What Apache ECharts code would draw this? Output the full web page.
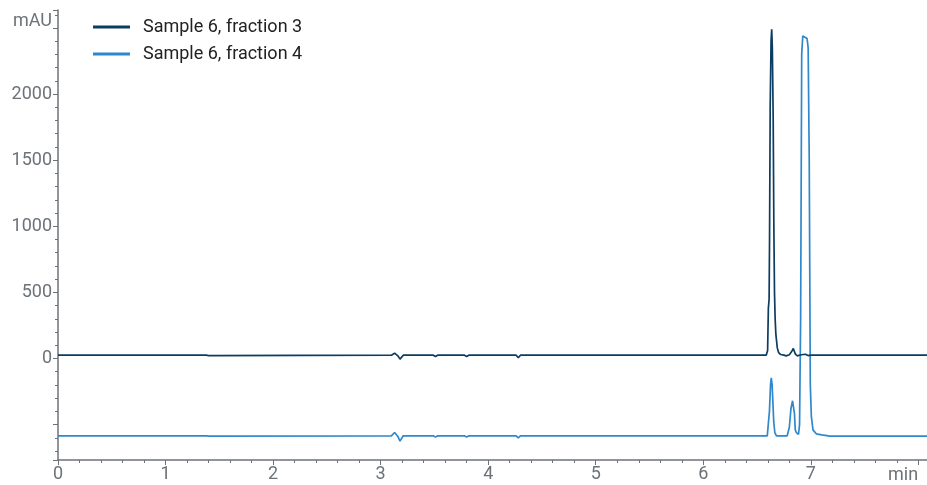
<!DOCTYPE html>
<html>
<head>
<meta charset="utf-8">
<script src="https://cdn.jsdelivr.net/npm/echarts@6/dist/echarts.min.js"></script>
<style>html,body{margin:0;padding:0;background:#fff}#c{width:927px;height:485px}</style>
</head>
<body>
<div id="c"></div>
<script>
// Series names
const seriesNames = ["Sample 6, fraction 3", "Sample 6, fraction 4"];

// Fraction 3: retention time (min) and absorbance (mAU)
const f3Time = [0, 0.75, 0.76, 0.77, 1.38, 1.39, 1.40, 1.41, 3.10, 3.13, 3.16, 3.18, 3.21, 3.49, 3.51, 3.53, 3.78, 3.80, 3.82, 4.26, 4.28, 4.30,
  6.585, 6.598, 6.605, 6.612, 6.616, 6.622, 6.630, 6.636, 6.642, 6.650, 6.656, 6.662, 6.668, 6.675, 6.688, 6.700, 6.720, 6.750, 6.770, 6.800, 6.820, 6.837, 6.855, 6.875, 6.900, 6.930, 6.950, 6.975, 7.000, 8.08];
const f3Value = [25, 25, 34, 25, 25, 34, 22, 25, 25, 40, 20, -5, 25, 25, 15, 25, 25, 15, 25, 25, 5, 25,
  25, 60, 380, 450, 900, 1900, 2400, 2490, 2350, 1800, 1000, 500, 300, 180, 80, 45, 30, 25, 20, 28, 50, 76, 35, 20, 26, 30, 32, 22, 25, 25];

// Fraction 4: retention time (min) and absorbance (mAU), drawn with a display offset
const f4Offset = -610;
const f4Time = [0, 0.75, 0.76, 0.77, 1.38, 1.39, 1.40, 1.41, 3.10, 3.13, 3.16, 3.18, 3.21, 3.49, 3.51, 3.53, 3.78, 3.80, 3.82, 4.26, 4.28, 4.30,
  6.595, 6.605, 6.615, 6.625, 6.632, 6.640, 6.648, 6.655, 6.665, 6.680, 6.780, 6.800, 6.815, 6.830, 6.840, 6.848, 6.855, 6.865, 6.875, 6.885, 6.895, 6.905, 6.915, 6.925, 6.935, 6.945, 6.955, 6.965, 6.975, 6.985, 6.995, 7.005, 7.020, 7.050, 7.100, 7.150, 7.170, 8.08];
const f4Value = [25, 25, 33, 25, 25, 32, 22, 25, 25, 50, 20, -15, 25, 25, 15, 25, 25, 15, 25, 25, 10, 25,
  25, 120, 210, 410, 463, 410, 260, 130, 50, 25, 25, 90, 230, 290, 297, 190, 70, 50, 40, 35, 110, 910, 2910, 3050, 3060, 3040, 3050, 3030, 2960, 2110, 410, 168, 70, 40, 32, 27, 23, 23];

const f3Data = f3Time.map((t, i) => [t, f3Value[i]]);
const f4Data = f4Time.map((t, i) => [t, f4Value[i] + f4Offset]);

const axisColor = '#6d7277';
const labelColor = '#6d7277';
const font = 'Roboto';

const chart = echarts.init(document.getElementById('c'), null, {renderer: 'canvas'});
chart.setOption({
  animation: false,
  backgroundColor: '#ffffff',
  grid: {left: 58, right: 0, top: 10, bottom: 25, containLabel: false, outerBoundsMode: 'none'},
  legend: {
    orient: 'vertical', left: 93, top: 18, padding: 0, itemWidth: 37, itemHeight: 3, itemGap: 9,
    icon: 'rect',
    textStyle: {fontFamily: font, fontSize: 18, color: '#222', padding: [0, 0, 0, 8]},
    data: seriesNames
  },
  xAxis: {
    type: 'value', min: 0, max: 8.08, minInterval: 1, maxInterval: 1,
    name: 'min', nameLocation: 'end', nameGap: -39,
    nameTextStyle: {fontFamily: font, fontSize: 18, color: labelColor, align: 'left', verticalAlign: 'top', padding: [6, 0, 0, 0]},
    axisLine: {show: true, onZero: false, lineStyle: {color: axisColor, width: 1.5}},
    axisTick: {show: true, length: 5, lineStyle: {color: axisColor}},
    minorTick: {show: true, splitNumber: 5, length: 3, lineStyle: {color: axisColor}},
    splitLine: {show: false},
    axisLabel: {fontFamily: font, fontSize: 18, color: labelColor, margin: 5,
      formatter: v => (Math.abs(v - Math.round(v)) < 1e-9 && v < 8) ? String(Math.round(v)) : ''}
  },
  yAxis: {
    type: 'value', min: -768, max: 2636, minInterval: 500, maxInterval: 500,
    axisLine: {show: true, lineStyle: {color: axisColor, width: 1.5}},
    axisTick: {show: true, length: 5, lineStyle: {color: axisColor}},
    minorTick: {show: true, splitNumber: 5, length: 3, lineStyle: {color: axisColor}},
    splitLine: {show: false},
    axisLabel: {fontFamily: font, fontSize: 18, color: labelColor, margin: 6,
      formatter: v => {
        if (v < 0 || v % 500 !== 0) return '';
        if (v === 2500) return '{u|mAU}';
        return String(v);
      },
      rich: {u: {fontFamily: font, fontSize: 18, color: labelColor, padding: [0, 0, 12, 0]}}}
  },
  series: [
    {name: seriesNames[0], type: 'line', data: f3Data, showSymbol: false, symbol: 'none',
     lineStyle: {color: '#0b3c62', width: 1.7}, itemStyle: {color: '#0b3c62'}, z: 3},
    {name: seriesNames[1], type: 'line', data: f4Data, showSymbol: false, symbol: 'none',
     lineStyle: {color: '#2f88cb', width: 1.7}, itemStyle: {color: '#2f88cb'}, z: 2}
  ]
});
</script>
</body>
</html>
